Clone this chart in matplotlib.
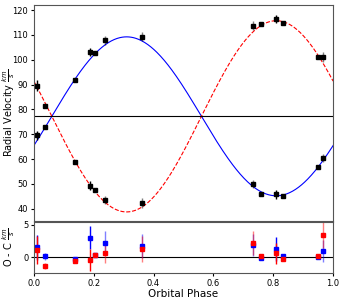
import matplotlib
matplotlib.use("Agg")
import matplotlib.pyplot as plt
import numpy as np

# observed phases and radial velocities (km/s)
phase = [0.012, 0.037, 0.136, 0.187, 0.204, 0.237, 0.363,
         0.731, 0.760, 0.810, 0.833, 0.950, 0.967]
rv1 = [69.5, 73.0, 91.8, 103.1, 102.6, 107.8, 109.2,
       50.0, 45.8, 45.9, 45.3, 56.9, 60.4]
rv2 = [89.5, 81.4, 58.9, 49.3, 47.5, 43.5, 42.3,
       113.7, 114.3, 116.3, 114.9, 101.2, 101.2]
err1 = [1.9, 0.5, 0.3, 1.8, 0.3, 1.8, 1.8, 1.7, 0.3, 1.8, 0.3, 0.3, 1.7]
err2 = [2.2, 0.5, 0.3, 1.7, 0.3, 1.5, 2.0, 1.8, 0.3, 1.6, 0.3, 0.3, 2.0]
# O - C residuals
res1 = [1.56, 0.15, -0.2, 3.0, 0.3, 2.17, 1.7, 1.9, -0.05, 1.26, 0.2, 0.1, 1.0]
res2 = [1.1, -1.3, -0.5, -0.4, 0.35, 0.6, 1.3, 2.17, 0.2, 0.6, -0.2, 0.2, 3.4]
solid = [True, False, False, True, False, False, False,
         False, False, True, False, False, False]

# orbital solution
gamma = 77.2
K1 = 32.0
K2 = 38.5
phi0 = 0.06

ph = np.linspace(0, 1, 400)
model1 = gamma + K1 * np.sin(2 * np.pi * (ph - phi0))
model2 = gamma - K2 * np.sin(2 * np.pi * (ph - phi0))

fig = plt.figure(figsize=(3.42, 2.98), dpi=100)
ax1 = fig.add_axes([0.099, 0.258, 0.875, 0.725])
ax2 = fig.add_axes([0.099, 0.084, 0.875, 0.171], sharex=ax1)

# --- top: radial velocity curves ---
ax1.plot(ph, model1, color='blue', lw=0.8)
ax1.plot(ph, model2, color='red', lw=0.8, ls='--')
ax1.axhline(gamma, color='black', lw=0.8)
for i in range(len(phase)):
    a = 1.0 if solid[i] else 0.5
    for v, e in ((rv1[i], err1[i]), (rv2[i], err2[i])):
        ax1.errorbar(phase[i], v, yerr=e, fmt='none', ecolor='black',
                     elinewidth=1.0, alpha=a)
        ax1.plot(phase[i], v, 's', color='black', ms=3.2)
ax1.set_ylim(35, 122)
ax1.set_yticks([40, 50, 60, 70, 80, 90, 100, 110, 120])
ax1.set_ylabel(r'Radial Velocity $\frac{km}{s}$', fontsize=7)
ax1.yaxis.set_label_coords(-0.055, 0.5)
ax1.tick_params(axis='y', labelsize=6, length=2.5, pad=1.5)
ax1.tick_params(axis='x', labelbottom=False, length=0)

# --- bottom: residuals ---
ax2.axhline(0, color='black', lw=0.8)
for i in range(len(phase)):
    a = 1.0 if solid[i] else 0.5
    ax2.errorbar(phase[i], res1[i], yerr=err1[i], fmt='none', ecolor='blue',
                 elinewidth=1.0, alpha=a)
    ax2.errorbar(phase[i], res2[i], yerr=err2[i], fmt='none', ecolor='red',
                 elinewidth=1.0, alpha=a)
    ax2.plot(phase[i], res1[i], 's', color='blue', ms=3.2)
    ax2.plot(phase[i], res2[i], 's', color='red', ms=3.2)
ax2.set_ylim(-2.4, 5.4)
ax2.set_yticks([0, 5])
ax2.set_xlim(0, 1)
ax2.set_xticks([0.0, 0.2, 0.4, 0.6, 0.8, 1.0])
ax2.set_ylabel(r'O - C $\frac{km}{s}$', fontsize=7)
ax2.yaxis.set_label_coords(-0.055, 0.5)
ax2.set_xlabel('Orbital Phase', fontsize=7.5, labelpad=1)
ax2.tick_params(labelsize=6, length=2.5, pad=1.5)

for ax in (ax1, ax2):
    for s in ax.spines.values():
        s.set_color('#555555')
        s.set_linewidth(0.8)

fig.savefig('out.png', dpi=100)
